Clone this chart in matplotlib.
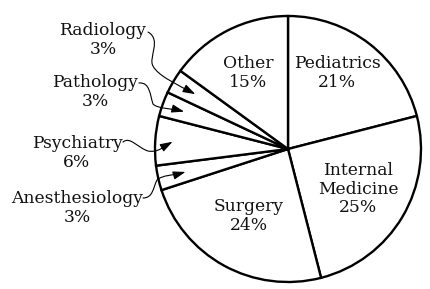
import numpy as np
import matplotlib.pyplot as plt
from matplotlib.patches import FancyArrowPatch
from matplotlib.path import Path

# data, clockwise from 12 o'clock
labels = ["Pediatrics", "Internal\nMedicine", "Surgery", "Anesthesiology",
          "Psychiatry", "Pathology", "Radiology", "Other"]
shares = [21, 25, 24, 3, 6, 3, 3, 15]

W, H = 430, 289
CX, CY, R = 288, 289 - 149, 133  # pie centre / radius in pixel units

def img(x, y):
    # image pixel coords (y down) -> data coords (y up)
    return (x, H - y)

fig = plt.figure(figsize=(W / 100, H / 100), dpi=100)
ax = fig.add_axes([0, 0, 1, 1])

wedges, _ = ax.pie(shares, radius=R, center=(CX, CY), startangle=90,
                   counterclock=False,
                   wedgeprops=dict(facecolor="white", edgecolor="black", linewidth=1.7))
ax.set_xlim(0, W)
ax.set_ylim(0, H)
ax.set_aspect("equal")
ax.axis("off")

font = dict(family="DejaVu Serif", fontsize=12.3, color="#111111", linespacing=1.12)

# labels drawn inside the big slices
inside_pos = {"Pediatrics": (337, 73), "Internal\nMedicine": (358, 189),
              "Surgery": (249, 216), "Other": (248, 73)}
# labels outside with leader arrows: text centre, leader waypoints (image px), tip radius
outside = {
    "Radiology": ((103, 40), [(148, 32), (162, 40), (148, 58), (153, 66), (158, 76), (178, 85)], 0.81),
    "Pathology": ((95, 92), [(139, 83), (150, 82), (150, 95), (153, 104), (158, 109), (170, 108)], 0.83),
    "Psychiatry": ((77, 153), [(123, 142), (130, 136), (138, 148), (148, 151), (158, 153), (165, 146)], 0.87),
    "Anesthesiology": ((77, 208), [(143, 198), (153, 198), (153, 188), (157, 180), (162, 175), (175, 175)], 0.79),
}

for w, lab, pct in zip(wedges, labels, shares):
    text = f"{lab}\n{pct}%"
    if lab in inside_pos:
        ax.text(*img(*inside_pos[lab]), text, ha="center", va="center", **font)
        continue
    (tx, ty), pts, frac = outside[lab]
    ax.text(*img(tx, ty), text, ha="center", va="center", **font)
    mid = np.deg2rad((w.theta1 + w.theta2) / 2)
    tip = (CX + frac * R * np.cos(mid), CY + frac * R * np.sin(mid))
    verts = [img(*p) for p in pts] + [tip]
    codes = [Path.MOVETO] + [Path.CURVE4] * 6
    arrow = FancyArrowPatch(path=Path(verts, codes),
                            arrowstyle="-|>,head_length=0.75,head_width=0.25",
                            mutation_scale=10, color="black", linewidth=0.8,
                            shrinkA=0, shrinkB=0)
    ax.add_patch(arrow)

fig.savefig("out.png", dpi=100, facecolor="white")
